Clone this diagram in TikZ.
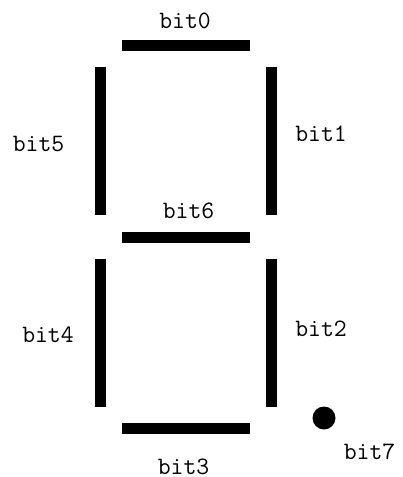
\documentclass[tikz,border=0pt]{standalone}
\usepackage{fontspec}
\begin{document}
\begin{tikzpicture}[x=1pt,y=-1pt,
  hbar/.style={fill=black,draw=none,minimum width=128pt,minimum height=11pt,inner sep=0pt,outer sep=0pt},
  vbar/.style={fill=black,draw=none,minimum width=11pt,minimum height=148pt,inner sep=0pt,outer sep=0pt},
  lbl/.style={inner sep=0pt,font=\ttfamily\fontsize{25}{30}\selectfont\addfontfeatures{FakeStretch=1.12}}]
\useasboundingbox (0,0) rectangle (402,477);
\node[hbar] (s0) at (186,45.5) {};
\node[vbar] (s1) at (271,141) {};
\node[vbar] (s2) at (271,332.5) {};
\node[hbar] (s3) at (186,428.5) {};
\node[vbar] (s4) at (100.5,332.5) {};
\node[vbar] (s5) at (100.5,141) {};
\node[hbar] (s6) at (186,237.5) {};
\node[circle,fill=black,inner sep=0pt,minimum size=23pt] (s7) at (324,418) {};
\node[lbl] (l0) at (185,20.5) {bit0};
\node[lbl] (l1) at (321,134) {bit1};
\node[lbl] (l2) at (321,329) {bit2};
\node[lbl] (l3) at (183.5,467) {bit3};
\node[lbl] (l4) at (48,334.5) {bit4};
\node[lbl] (l5) at (38.5,144) {bit5};
\node[lbl] (l6) at (188.5,211) {bit6};
\node[lbl] (l7) at (369.5,452) {bit7};
\end{tikzpicture}
\end{document}
